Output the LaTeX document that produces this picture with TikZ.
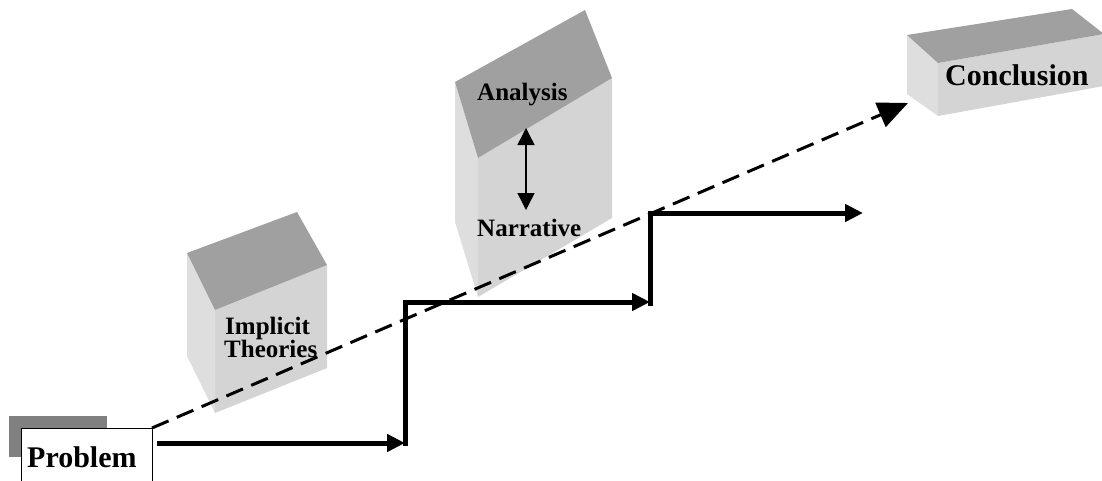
\documentclass[tikz,border=0pt]{standalone}
\usepackage{fontspec}
\setmainfont{Liberation Serif}
\usetikzlibrary{arrows.meta}
\definecolor{topgray}{RGB}{160,160,160}
\definecolor{frontgray}{RGB}{212,212,212}
\definecolor{leftgray}{RGB}{222,222,222}
\definecolor{shadowgray}{RGB}{128,128,128}
\tikzset{
  lbl/.style={inner sep=0pt, anchor=base west, font=\bfseries\fontsize{25}{25}\selectfont},
  biglbl/.style={inner sep=0pt, anchor=base west, font=\bfseries\fontsize{30}{30}\selectfont},
  topface/.style={fill=topgray, draw=none},
  frontface/.style={fill=frontgray, draw=none},
  leftface/.style={fill=leftgray, draw=none},
  steparrow/.style={line width=5pt, line join=miter, -{Triangle[length=18pt,width=17pt]}},
  dasharrow/.style={line width=3pt, dash pattern=on 18pt off 9pt, -{Triangle[length=30pt,width=26pt]}},
  dblarrow/.style={line width=1.5pt, {Triangle[length=17pt,width=17pt]}-{Triangle[length=17pt,width=17pt]}}
}
\begin{document}
\begin{tikzpicture}[x=1pt,y=-1pt]
\useasboundingbox (0,0) rectangle (1102,480);
\clip (0,0) rectangle (1102,480);
% Problem box
\fill[shadowgray] (9,416) rectangle (107,457);
\draw[fill=white, line width=1pt] (21,428) rectangle (152,490);
\coordinate (pbox) at (152,428);
\node[biglbl] (problem) at (27,467) {Problem};
% Implicit Theories block
\fill[leftface] (187,253) -- (215,310) -- (215,413) -- (187,356) -- cycle;
\fill[frontface] (215,310) -- (327,265) -- (327,368) -- (215,413) -- cycle;
\fill[topface] (187,253) -- (297,212) -- (327,265) -- (215,310) -- cycle;
\node[lbl] (implicit) at (225,334) {Implicit};
\node[lbl] (theories) at (224,357) {Theories};
% Analysis / Narrative block
\fill[leftface] (455,82) -- (478,158) -- (478,297) -- (455,222) -- cycle;
\fill[frontface] (478,158) -- (612,78) -- (612,218) -- (478,297) -- cycle;
\fill[topface] (455,82) -- (585,10) -- (612,78) -- (478,158) -- cycle;
\node[lbl] (analysis) at (477,100) {Analysis};
\node[lbl] (narrative) at (477,236) {Narrative};
\coordinate (dtop) at (526,128);
\coordinate (dbot) at (526,210);
\draw[dblarrow] (dtop) -- (dbot);
% Conclusion block
\fill[leftface] (907,35) -- (938,63) -- (938,116) -- (907,94) -- cycle;
\fill[frontface] (938,63) -- (1104,34) -- (1104,86) -- (938,116) -- cycle;
\fill[topface] (907,35) -- (1072,9) -- (1104,34) -- (938,63) -- cycle;
\node[biglbl] (conclusion) at (945,85) {Conclusion};
% dashed arrow
\coordinate (ctip) at (908,103);
\draw[dasharrow] (pbox) -- (ctip);
% step arrows
\coordinate (s0) at (157,443);
\coordinate (s1) at (405,443);
\coordinate (s1b) at (405,445.5);
\coordinate (s2) at (405,302);
\coordinate (s3) at (650,302);
\coordinate (s3b) at (650,306);
\coordinate (s4) at (650,213);
\coordinate (s5) at (863,213);
\draw[steparrow] (s0) -- (s1);
\draw[steparrow] (s1b) -- (s2) -- (s3);
\draw[steparrow] (s3b) -- (s4) -- (s5);
\end{tikzpicture}
\end{document}
